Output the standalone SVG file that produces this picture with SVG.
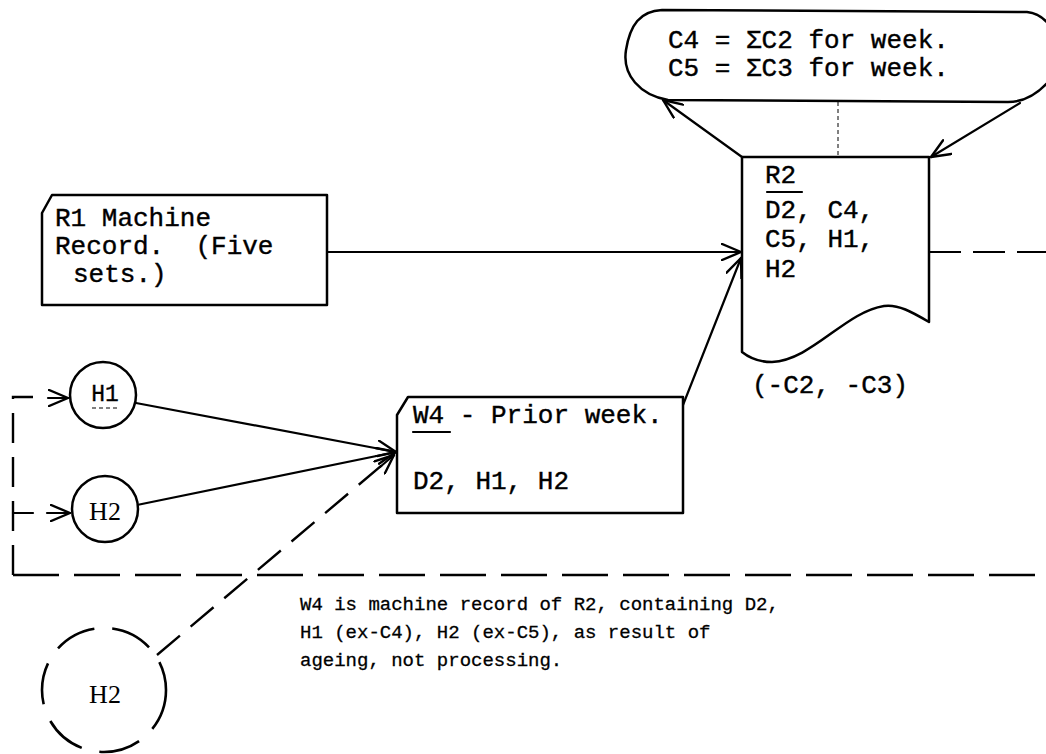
<svg xmlns="http://www.w3.org/2000/svg" width="1046" height="754" viewBox="0 0 1046 754">
<style>
.bg{fill:#fff}
.shape{fill:#fff;stroke:#000;stroke-width:2.5;stroke-linejoin:round}
.line{fill:none;stroke:#000;stroke-width:2.2;stroke-linecap:round}
.dash{fill:none;stroke:#000;stroke-width:2.4;stroke-dasharray:46 15}
.dashv{fill:none;stroke:#000;stroke-width:2.4;stroke-dasharray:30 14}
.dot{fill:none;stroke:#000;stroke-width:1;stroke-dasharray:4 3}
.big{font-family:"Liberation Mono",monospace;font-size:26px;fill:#000;stroke:#000;stroke-width:0.4}
.small{font-family:"Liberation Mono",monospace;font-size:19px;fill:#000;stroke:#000;stroke-width:0.3}
.circ{font-family:"Liberation Serif",serif;font-size:26px;fill:#000}
.circm{font-family:"Liberation Mono",monospace;font-size:23px;fill:#000;stroke:#000;stroke-width:0.3}
</style>
<defs>
<marker id="arr" viewBox="0 0 22 18" refX="20" refY="9" markerWidth="22" markerHeight="18" markerUnits="userSpaceOnUse" orient="auto">
<path d="M1,1 L20,9 L1,17" fill="none" stroke="#000" stroke-width="2.4" stroke-linecap="round" stroke-linejoin="round"/>
</marker>
</defs>
<rect class="bg" x="0" y="0" width="1046" height="754"/>

<g id="connectors">
<path class="line" d="M327,252 L741,252" marker-end="url(#arr)"/>
<path class="line" d="M683,405 L741,258" marker-end="url(#arr)"/>
<path class="line" d="M136,403 L396,452" marker-end="url(#arr)"/>
<path class="line" d="M137,505 L396,452" marker-end="url(#arr)"/>
<path class="dashv" d="M157,655 L394,455"/>
<path class="line" d="M380,467 L394,455" marker-end="url(#arr)"/>
<path class="line" d="M742,157 L663,100" marker-end="url(#arr)"/>
<path class="line" d="M1020,103 L931,157" marker-end="url(#arr)"/>
<path class="dot" d="M838,102 L838,157"/>
<path class="line" d="M929,252 L1046,252" style="stroke-dasharray:32 12;stroke-linecap:butt"/>
<path class="dash" d="M13,575 L1046,575"/>
<path class="dashv" d="M13,575 L13,397 L33,397"/>
<path class="line" d="M48,398 L68,398" marker-end="url(#arr)"/>
<path class="line" d="M13,513 L33,513"/>
<path class="line" d="M47,513 L70,513" marker-end="url(#arr)"/>
</g>

<g id="cloud">
<path class="shape" d="M1056,72 C1042,92 1026,102 1008,102 L668,100 C640,95 622,75 626,50 C630,25 640,11 662,10 L1027,12 C1045,14 1056,30 1060,50 Z"/>
<text class="big" x="668" y="48">C4 = ΣC2 for week.</text>
<text class="big" x="668" y="76">C5 = ΣC3 for week.</text>
</g>

<g id="r2">
<path class="shape" d="M742,157 L929,157 L929,322 C912,312 898,304 884,306 C845,312 812,360 772,362 C757,362 747,356 742,352 Z"/>
<text class="big" x="765" y="183">R2</text>
<path class="line" d="M767,192 L802,192"/>
<text class="big" x="765" y="218">D2, C4,</text>
<text class="big" x="765" y="247">C5, H1,</text>
<text class="big" x="765" y="277">H2</text>
<text class="big" x="752" y="393">(-C2, -C3)</text>
</g>

<g id="r1">
<path class="shape" d="M52,195 L327,195 L327,305 L42,305 L42,213 Z"/>
<text class="big" x="55" y="226">R1 Machine</text>
<text class="big" x="55" y="254" xml:space="preserve">Record.  (Five</text>
<text class="big" x="73" y="282">sets.)</text>
</g>

<g id="w4">
<path class="shape" d="M408,397 L683,397 L683,513 L397,513 L397,415 Z"/>
<text class="big" x="413" y="423">W4 - Prior week.</text>
<path class="line" d="M413,432 L450,432"/>
<text class="big" x="413" y="489">D2, H1, H2</text>
</g>

<g id="h1">
<circle class="shape" cx="103" cy="395" r="33"/>
<text class="circm" x="105" y="401" text-anchor="middle">H1</text>
<path class="dot" d="M92,408 L118,408"/>
</g>

<g id="h2">
<circle class="shape" cx="105" cy="509" r="33"/>
<text class="circ" x="105" y="520" text-anchor="middle">H2</text>
</g>

<g id="h2-dashed">
<circle cx="104" cy="690" r="62" fill="none" stroke="#000" stroke-width="2.6" style="stroke-dasharray:42 18"/>
<text class="circ" x="105" y="703" text-anchor="middle">H2</text>
</g>

<g id="note">
<text class="small" x="300" y="610">W4 is machine record of R2, containing D2,</text>
<text class="small" x="300" y="638">H1 (ex-C4), H2 (ex-C5), as result of</text>
<text class="small" x="300" y="666">ageing, not processing.</text>
</g>
</svg>
